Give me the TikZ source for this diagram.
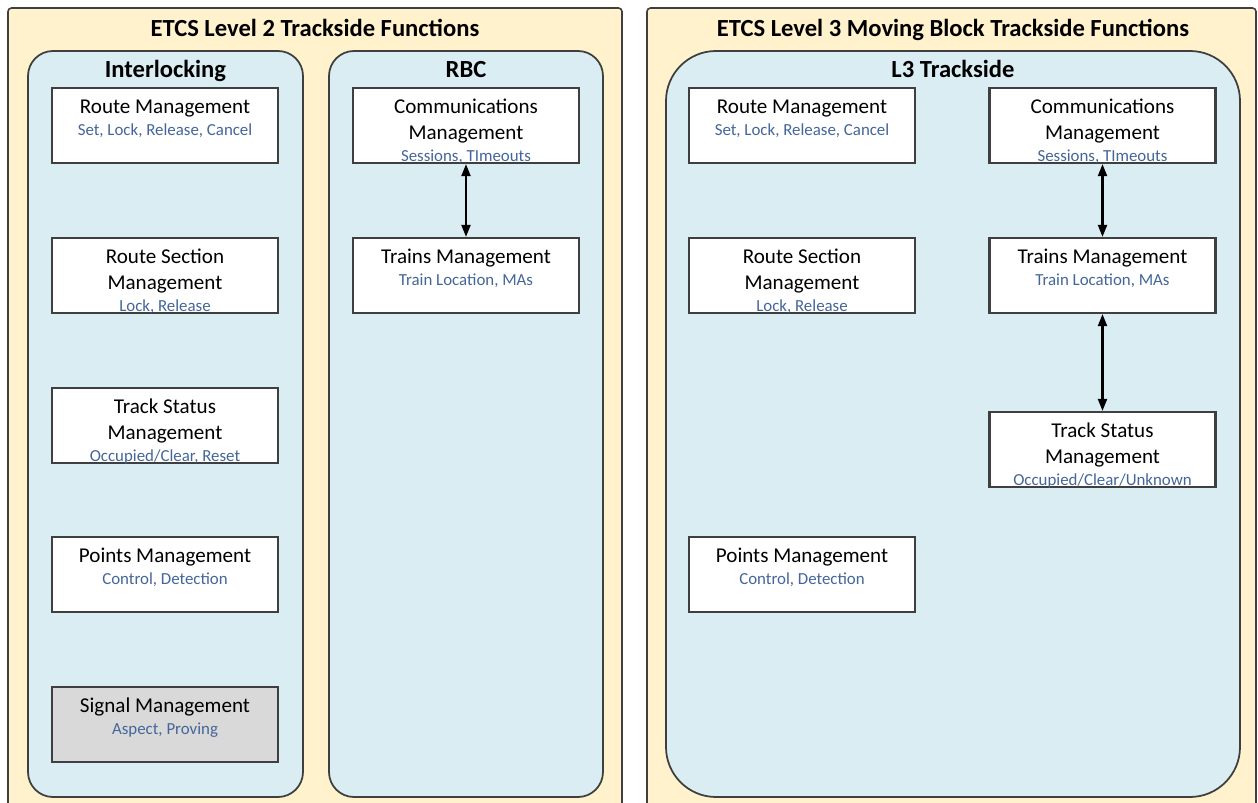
\documentclass[tikz,border=0pt]{standalone}
\usepackage{fontspec}
\setmainfont{Carlito}
\usetikzlibrary{arrows.meta}

\definecolor{frameyellow}{HTML}{FFF2CC}
\definecolor{panelblue}{HTML}{DAEDF3}
\definecolor{edgegray}{HTML}{3F3F3F}
\definecolor{subblue}{HTML}{44669A}
\definecolor{signalgray}{HTML}{D9D9D9}

% box text: function name on top, its duties below in small blue
\newcommand{\fnlabel}[2]{\parbox[c][1.5cm][t]{4.52cm}{\centering
  \fontsize{12}{14.7}\selectfont\rule{0pt}{14.7pt}#1\par
  \fontsize{9.6}{12.6}\selectfont\color{subblue}#2\par}}

\begin{document}
\begin{tikzpicture}[x=0.02cm, y=-0.02cm,
  frame/.style={draw=edgegray, fill=frameyellow, line width=0.9pt, rounded corners=2pt},
  panel/.style={draw=edgegray, fill=panelblue, line width=1pt},
  fnbox/.style={draw=edgegray, fill=white, line width=1.3pt, inner sep=0pt},
  hdr/.style={font=\fontsize{14}{16}\selectfont\bfseries, anchor=base, inner sep=0pt},
  link/.style={{Triangle[length=0.24cm,width=0.18cm]}-{Triangle[length=0.24cm,width=0.18cm]}, line width=1.2pt}]
  \useasboundingbox (0,0) rectangle (1258,803);
  \clip (0,0) rectangle (1258,803);
  \fill[white] (0,0) rectangle (1258,803);

  % level 2
  \draw[frame] (8,8) rectangle (622,830);
  \draw[panel, rounded corners=0.5cm] (28,51) rectangle (303,797);
  \draw[panel, rounded corners=0.5cm] (329,51) rectangle (603,797);
  \node[hdr] (l2title) at (315,37) {ETCS Level 2 Trackside Functions};
  \node[hdr] (iltitle) at (165.5,78) {Interlocking};
  \node[hdr] (rbctitle) at (466,78) {RBC};

  \node[fnbox] (ilroute) at (165,125.5) {\fnlabel{Route Management}{Set, Lock, Release, Cancel}};
  \node[fnbox] (ilsection) at (165,275.5) {\fnlabel{Route Section\\Management}{Lock, Release}};
  \node[fnbox] (iltrack) at (165,425.5) {\fnlabel{Track Status\\Management}{Occupied/Clear, Reset}};
  \node[fnbox] (ilpoints) at (165,574.5) {\fnlabel{Points Management}{Control, Detection}};
  \node[fnbox, fill=signalgray] (ilsignal) at (165,724.5) {\fnlabel{Signal Management}{Aspect, Proving}};

  \node[fnbox] (rbccomms) at (466,125.5) {\fnlabel{Communications\\Management}{Sessions, TImeouts}};
  \node[fnbox] (rbctrains) at (466,275.5) {\fnlabel{Trains Management}{Train Location, MAs}};
  \draw[link] (rbccomms.south) -- (rbctrains.north);

  % level 3
  \draw[frame] (647,8) rectangle (1256,830);
  \draw[panel, rounded corners=1cm] (666,51) rectangle (1240,797);
  \node[hdr] (l3title) at (953,37) {ETCS Level 3 Moving Block Trackside Functions};
  \node[hdr] (l3tstitle) at (953,78) {L3 Trackside};

  \node[fnbox] (l3route) at (802,125.5) {\fnlabel{Route Management}{Set, Lock, Release, Cancel}};
  \node[fnbox] (l3section) at (802,275.5) {\fnlabel{Route Section\\Management}{Lock, Release}};
  \node[fnbox] (l3points) at (802,574.5) {\fnlabel{Points Management}{Control, Detection}};

  \node[fnbox] (l3comms) at (1102.5,125.5) {\fnlabel{Communications\\Management}{Sessions, TImeouts}};
  \node[fnbox] (l3trains) at (1102.5,275.5) {\fnlabel{Trains Management}{Train Location, MAs}};
  \node[fnbox] (l3track) at (1102.5,449.5) {\fnlabel{Track Status\\Management}{Occupied/Clear/Unknown}};
  \draw[link] (l3comms.south) -- (l3trains.north);
  \draw[link] (l3trains.south) -- (l3track.north);
\end{tikzpicture}
\end{document}
